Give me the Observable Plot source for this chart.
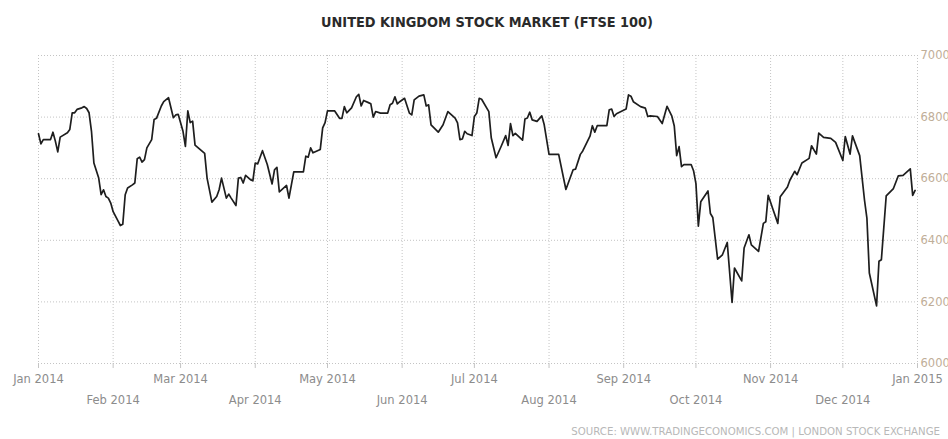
<!DOCTYPE html>
<html><head><meta charset="utf-8">
<script src="https://cdn.jsdelivr.net/npm/d3@7"></script>
<script src="https://cdn.jsdelivr.net/npm/@observablehq/plot@0.6"></script>
<style>
html,body{margin:0;padding:0;background:#fff;}
body{width:948px;height:439px;overflow:hidden;}
#title{height:40px;box-sizing:border-box;padding-left:26px;line-height:44px;text-align:center;font-family:"Liberation Sans Narrow","DejaVu Sans Condensed",sans-serif;font-weight:bold;font-size:14.4px;color:#2a2a2a;}
#src{height:24px;box-sizing:border-box;padding-top:11px;padding-right:8px;text-align:right;font-family:"DejaVu Sans",sans-serif;font-size:10.2px;color:#b8b8b8;line-height:12px;}
</style></head><body>
<div id="title">UNITED KINGDOM STOCK MARKET (FTSE 100)</div>
<div id="chart"></div>
<div id="src">SOURCE: WWW.TRADINGECONOMICS.COM | LONDON STOCK EXCHANGE</div>
<script>
const dates = [
"2014-01-01","2014-01-02","2014-01-03","2014-01-06","2014-01-07","2014-01-08","2014-01-09","2014-01-10","2014-01-13","2014-01-14",
"2014-01-15","2014-01-16","2014-01-17","2014-01-19","2014-01-20","2014-01-21","2014-01-22","2014-01-23","2014-01-24","2014-01-26",
"2014-01-27","2014-01-28","2014-01-29","2014-01-30","2014-01-31","2014-02-01","2014-02-03","2014-02-04","2014-02-05","2014-02-06",
"2014-02-07","2014-02-09","2014-02-10","2014-02-11","2014-02-12","2014-02-13","2014-02-14","2014-02-15","2014-02-17","2014-02-18",
"2014-02-19","2014-02-21","2014-02-22","2014-02-24","2014-02-26","2014-02-27","2014-02-28","2014-03-02","2014-03-03","2014-03-04",
"2014-03-05","2014-03-06","2014-03-07","2014-03-11","2014-03-12","2014-03-14","2014-03-16","2014-03-17","2014-03-18","2014-03-20",
"2014-03-21","2014-03-22","2014-03-24","2014-03-25","2014-03-26","2014-03-27","2014-03-28","2014-03-30","2014-03-31","2014-04-01",
"2014-04-02","2014-04-04","2014-04-06","2014-04-08","2014-04-09","2014-04-10","2014-04-11","2014-04-14","2014-04-15","2014-04-17",
"2014-04-21","2014-04-22","2014-04-23","2014-04-24","2014-04-25","2014-04-28","2014-04-29","2014-04-30","2014-05-01","2014-05-04",
"2014-05-06","2014-05-07","2014-05-08","2014-05-09","2014-05-11","2014-05-13","2014-05-14","2014-05-15","2014-05-16","2014-05-18",
"2014-05-19","2014-05-20","2014-05-21","2014-05-23","2014-05-26","2014-05-27","2014-05-28","2014-05-29","2014-05-30","2014-05-31",
"2014-06-02","2014-06-04","2014-06-05","2014-06-06","2014-06-08","2014-06-10","2014-06-11","2014-06-12","2014-06-13","2014-06-16",
"2014-06-18","2014-06-20","2014-06-23","2014-06-24","2014-06-25","2014-06-26","2014-06-27","2014-06-28","2014-06-30","2014-07-01",
"2014-07-02","2014-07-03","2014-07-04","2014-07-07","2014-07-08","2014-07-10","2014-07-12","2014-07-14","2014-07-15","2014-07-16",
"2014-07-17","2014-07-18","2014-07-21","2014-07-22","2014-07-23","2014-07-24","2014-07-25","2014-07-27","2014-07-29","2014-07-30",
"2014-08-01","2014-08-05","2014-08-08","2014-08-11","2014-08-12","2014-08-14","2014-08-15","2014-08-18","2014-08-19","2014-08-20",
"2014-08-21","2014-08-25","2014-08-26","2014-08-27","2014-08-28","2014-08-29","2014-09-02","2014-09-03","2014-09-04","2014-09-05",
"2014-09-08","2014-09-10","2014-09-11","2014-09-12","2014-09-15","2014-09-17","2014-09-19","2014-09-21","2014-09-22","2014-09-23",
"2014-09-24","2014-09-25","2014-09-26","2014-09-29","2014-09-30","2014-10-01","2014-10-02","2014-10-03","2014-10-06","2014-10-07",
"2014-10-08","2014-10-10","2014-10-12","2014-10-14","2014-10-16","2014-10-17","2014-10-20","2014-10-21","2014-10-23","2014-10-24",
"2014-10-27","2014-10-29","2014-10-30","2014-10-31","2014-11-02","2014-11-04","2014-11-05","2014-11-08","2014-11-09","2014-11-11",
"2014-11-12","2014-11-14","2014-11-17","2014-11-18","2014-11-20","2014-11-21","2014-11-23","2014-11-26","2014-11-28","2014-12-01",
"2014-12-02","2014-12-04","2014-12-05","2014-12-08","2014-12-10","2014-12-11","2014-12-12","2014-12-15","2014-12-16","2014-12-17",
"2014-12-19","2014-12-22","2014-12-24","2014-12-26","2014-12-29","2014-12-30","2014-12-31"
];
const values = [
6746,6713,6727,6727,6751,6722,6687,6735,6749,6760,
6814,6814,6825,6830,6834,6828,6814,6754,6651,6602,
6548,6564,6542,6537,6521,6493,6463,6448,6452,6548,
6570,6580,6586,6665,6670,6654,6662,6700,6727,6792,
6796,6836,6850,6863,6798,6807,6809,6754,6705,6820,
6782,6787,6709,6682,6602,6524,6542,6564,6602,6537,
6550,6537,6513,6602,6604,6586,6611,6597,6593,6651,
6648,6691,6646,6583,6629,6637,6557,6578,6537,6622,
6622,6673,6670,6700,6684,6695,6765,6782,6820,6820,
6796,6796,6834,6814,6830,6866,6874,6836,6854,6847,
6843,6800,6818,6813,6813,6840,6845,6866,6843,6850,
6861,6813,6807,6856,6868,6872,6836,6840,6775,6751,
6775,6818,6797,6781,6727,6729,6754,6746,6740,6802,
6813,6861,6858,6818,6733,6668,6703,6740,6708,6779,
6740,6747,6725,6794,6797,6816,6791,6786,6804,6775,
6679,6679,6565,6629,6631,6679,6690,6738,6772,6751,
6772,6772,6824,6826,6802,6811,6826,6872,6868,6850,
6834,6829,6802,6804,6802,6779,6835,6803,6771,6675,
6704,6639,6646,6646,6626,6584,6446,6525,6560,6487,
6474,6339,6353,6393,6198,6310,6268,6375,6418,6385,
6364,6455,6460,6546,6500,6455,6541,6573,6595,6624,
6613,6651,6666,6707,6680,6748,6734,6731,6718,6659,
6737,6680,6739,6675,6530,6471,6294,6187,6332,6337,
6544,6568,6609,6611,6632,6546,6562
];
const yTicks = [6000, 6200, 6400, 6600, 6800, 7000];
const monthStarts = ["2014-01-01","2014-02-01","2014-03-01","2014-04-01","2014-05-01","2014-06-01","2014-07-01",
  "2014-08-01","2014-09-01","2014-10-01","2014-11-01","2014-12-01","2015-01-01"];
const monthLabels = ["Jan 2014","Feb 2014","Mar 2014","Apr 2014","May 2014","Jun 2014","Jul 2014",
  "Aug 2014","Sep 2014","Oct 2014","Nov 2014","Dec 2014","Jan 2015"];

const data = dates.map((d, i) => ({date: new Date(d), value: values[i]}));
const months = monthStarts.map(d => new Date(d));
const labelOf = new Map(months.map((m, i) => [+m, monthLabels[i]]));
const rowA = months.filter((m, i) => i % 2 === 0);
const rowB = months.filter((m, i) => i % 2 === 1);
const fmt = d => labelOf.get(+d);

const gridStyle = {stroke: "#c4c4c4", strokeOpacity: 1, strokeWidth: 1, strokeDasharray: "1,2"};

const chart = Plot.plot({
  width: 948,
  height: 375,
  marginTop: 15,
  marginBottom: 52,
  marginLeft: 38,
  marginRight: 31,
  style: {fontFamily: "'DejaVu Sans', sans-serif", fontSize: "11.5px", background: "#fff", overflow: "visible"},
  x: {type: "utc", domain: [months[0], months[months.length - 1]]},
  y: {domain: [6000, 7000]},
  marks: [
    Plot.gridY(yTicks, gridStyle),
    Plot.gridX(months, gridStyle),
    Plot.axisX(rowA, {tickSize: 5, tickPadding: 6, tickFormat: fmt, stroke: "#c4c4c4", fill: "#8c8c8c", label: null}),
    Plot.axisX(rowB, {tickSize: 5, tickPadding: 27, tickFormat: fmt, stroke: "#c4c4c4", fill: "#8c8c8c", label: null}),
    Plot.axisY(yTicks, {anchor: "right", tickSize: 0, tickPadding: 3, tickFormat: d => String(d), fill: "#bfae98", label: null}),
    Plot.line(data, {x: "date", y: "value", stroke: "#1e1e1e", strokeWidth: 1.7, strokeLinejoin: "round"})
  ]
});
document.getElementById("chart").appendChild(chart);
</script>
</body></html>
